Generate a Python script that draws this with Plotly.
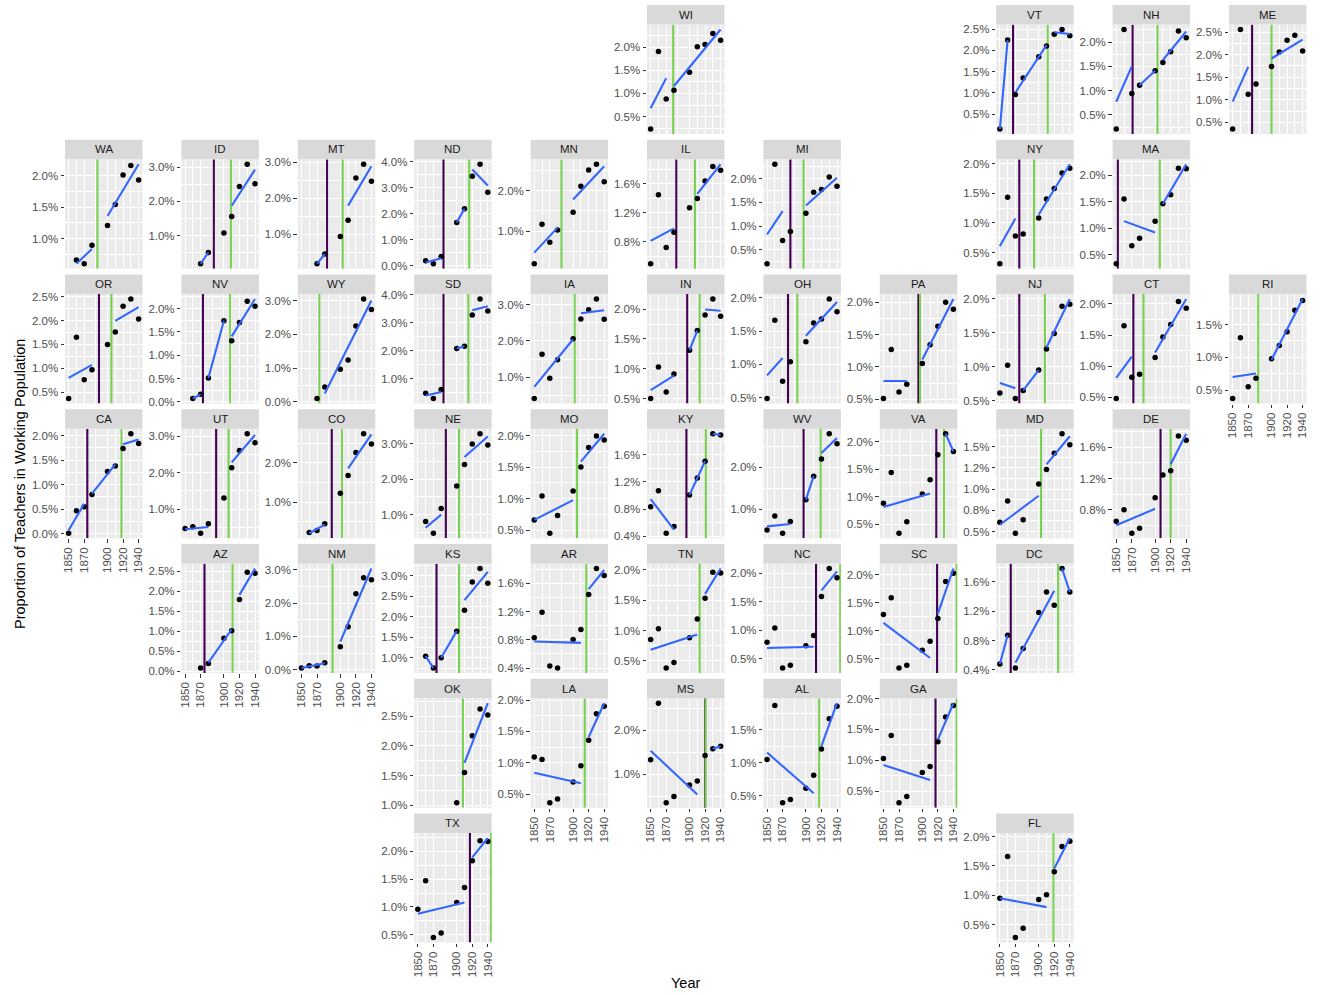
import math
import numpy as np
import plotly.graph_objects as go

# ---------------- data ----------------
YEARS = [1850, 1860, 1870, 1880, 1900, 1910, 1920, 1930, 1940]
X_TICKS = [1850, 1870, 1900, 1920, 1940]

STATES = ["WI", "VT", "NH", "ME",
          "WA", "ID", "MT", "ND", "MN", "IL", "MI", "NY", "MA",
          "OR", "NV", "WY", "SD", "IA", "IN", "OH", "PA", "NJ", "CT", "RI",
          "CA", "UT", "CO", "NE", "MO", "KY", "WV", "VA", "MD", "DE",
          "AZ", "NM", "KS", "AR", "TN", "NC", "SC", "DC",
          "OK", "LA", "MS", "AL", "GA",
          "TX", "FL"]

# proportion of teachers in working population (%), one value per census year (None = no data)
WI = [0.23, 1.91, 0.88, 1.07, 1.46, 2.01, 2.06, 2.30, 2.15]
VT = [0.15, 2.24, 0.96, 1.35, 1.85, 2.10, 2.38, 2.49, 2.34]
NH = [0.21, 2.26, 0.94, 1.11, 1.41, 1.58, 1.80, 2.23, 2.09]
ME = [0.35, 2.56, 1.12, 1.35, 1.74, 2.06, 2.32, 2.43, 2.08]
WA = [None, 0.66, 0.60, 0.895, 1.21, 1.54, 2.01, 2.16, 1.93]
ID = [None, None, 0.17, 0.50, 1.07, 1.56, 2.44, 3.09, 2.52]
MT = [None, None, 0.19, 0.46, 0.94, 1.39, 2.56, 2.94, 2.47]
ND = [None, 0.20, 0.085, 0.36, 1.67, 2.19, 3.44, 3.90, 2.83]
MN = [0.20, 1.17, 0.73, 1.03, 1.47, 2.11, 2.51, 2.65, 2.22]
IL = [0.495, 1.45, 0.72, 0.93, 1.27, 1.40, 1.64, 1.84, 1.79]
MI = [0.21, 2.30, 0.70, 0.89, 1.27, 1.71, 1.77, 2.03, 1.84]
NY = [0.31, 1.43, 0.78, 0.81, 1.08, 1.40, 1.58, 1.84, 1.92]
MA = [0.33, 1.55, 0.67, 0.81, 1.13, 1.46, 1.63, 2.13, 2.12]
OR = [0.37, 1.65, 0.76, 0.97, 1.50, 1.76, 2.30, 2.45, 2.03]
NV = [None, 0.07, 0.16, 0.51, 1.74, 1.31, 1.70, 2.16, 2.05]
WY = [None, None, 0.10, 0.44, 0.97, 1.24, 2.25, 3.05, 2.74]
SD = [None, 0.48, 0.29, 0.61, 2.08, 2.16, 3.28, 3.85, 3.42]
IA = [0.41, 1.63, 0.97, 1.48, 2.06, 2.61, 2.86, 3.16, 2.60]
IN = [0.50, 1.03, 0.61, 0.91, 1.31, 1.64, 1.90, 2.17, 1.88]
OH = [0.49, 1.66, 0.75, 1.04, 1.34, 1.62, 1.68, 1.98, 1.79]
PA = [0.51, 1.27, 0.61, 0.73, 1.05, 1.34, 1.63, 2.00, 1.89]
NJ = [0.61, 1.02, 0.53, 0.65, 0.95, 1.26, 1.49, 1.89, 1.92]
CT = [0.48, 1.65, 0.82, 0.87, 1.14, 1.47, 1.67, 2.04, 1.93]
RI = [0.37, 1.30, 0.55, 0.68, 0.98, 1.18, 1.39, 1.72, 1.87]
CA = [0.01, 0.47, 0.55, 0.80, 1.27, 1.38, 1.74, 2.04, 1.84]
UT = [0.47, 0.52, 0.34, 0.60, 1.31, 2.14, 2.61, 3.07, 2.82]
CO = [None, 0.23, 0.28, 0.45, 1.23, 1.68, 2.26, 2.74, 2.48]
NE = [None, 0.80, 0.47, 1.17, 1.81, 2.42, 3.00, 3.29, 2.97]
MO = [0.66, 1.04, 0.45, 0.73, 1.12, 1.50, 1.81, 1.99, 1.93]
KY = [0.835, 1.07, 0.445, 0.545, 1.01, 1.26, 1.505, 1.91, 1.89]
WV = [0.51, 0.84, 0.43, 0.71, 1.23, 1.79, 2.20, 2.80, 2.56]
VA = [0.885, 1.44, 0.34, 0.55, 1.05, 1.31, 1.76, 2.14, 1.82]
MD = [0.61, 0.86, 0.48, 0.64, 1.06, 1.23, 1.42, 1.65, 1.52]
DE = [0.655, 0.80, 0.50, 0.565, 0.955, 1.245, 1.30, 1.745, 1.69]
AZ = [None, None, 0.075, 0.19, 0.82, 1.01, 1.79, 2.47, 2.45]
NM = [0.05, 0.12, 0.11, 0.21, 0.69, 1.29, 2.28, 2.76, 2.70]
KS = [None, 1.04, 0.75, 1.00, 1.65, 2.16, 2.85, 3.18, 2.82]
AR = [0.83, 1.19, 0.43, 0.40, 0.805, 0.945, 1.44, 1.81, 1.71]
TN = [0.85, 1.03, 0.38, 0.47, 0.88, 1.19, 1.53, 1.96, 1.95]
NC = [0.79, 1.04, 0.34, 0.39, 0.73, 0.91, 1.59, 2.08, 1.92]
SC = [1.29, 1.59, 0.33, 0.38, 0.65, 0.81, 1.22, 1.88, 2.03]
DC = [0.48, 0.87, 0.425, 0.69, 1.18, 1.46, 1.28, 1.78, 1.46]
OK = [None, None, None, None, 1.04, 1.55, 2.17, 2.62, 2.52]
LA = [1.09, 1.05, 0.36, 0.42, 0.69, 0.95, 1.36, 1.78, 1.90]
MS = [1.33, 2.61, 0.36, 0.50, 0.76, 0.85, 1.43, 1.58, 1.64]
AL = [1.05, 1.87, 0.39, 0.44, 0.61, 0.81, 1.21, 1.67, 1.86]
GA = [1.03, 1.40, 0.31, 0.41, 0.80, 0.90, 1.30, 1.70, 1.89]
TX = [0.96, 1.47, 0.45, 0.53, 1.08, 1.35, 1.83, 2.19, 2.18]
FL = [0.95, 1.66, 0.28, 0.44, 0.93, 1.01, 1.40, 1.83, 1.92]

# event years (purple and green reference lines), aligned with STATES
PURPLE_YEAR = [None, 1867, 1871, 1875,
               None, 1887, 1883, 1883, None, 1883, 1880, 1875, 1852,
               1889, 1873, None, 1883, None, 1897, 1877, 1895, 1875, 1872, None,
               1874, 1890, 1889, 1886, None, 1896, 1897, 1918, None, 1907,
               1875, None, 1874, None, None, 1913, 1919, 1864,
               None, None, 1920, None, 1917,
               1917, None]
GREEN_YEAR = [1879, 1911.5, 1903, 1900,
              1887, 1909, 1903, 1916, 1885, 1907, 1897, 1894, 1906,
              1905, 1908, 1873, 1915, 1902, 1913, 1889, 1897, 1908, 1885, 1883,
              1918, 1906, 1902, 1903, 1905, 1921, 1919, 1928, 1903, 1920,
              1911, 1890, 1903, 1917, 1913, 1944.2, 1944.2, 1925,
              1908, 1915, 1920.6, 1917, 1944.2,
              1944.2, 1919]

# y-axis break spacing (in %) per state
Y_STEP = [0.5, 0.5, 0.5, 0.5,
          0.5, 1.0, 1.0, 1.0, 1.0, 0.4, 0.5, 0.5, 0.5,
          0.5, 0.5, 1.0, 1.0, 1.0, 0.5, 0.5, 0.5, 0.5, 0.5, 0.5,
          0.5, 1.0, 1.0, 1.0, 0.5, 0.4, 1.0, 0.5, 0.25, 0.4,
          0.5, 1.0, 0.5, 0.4, 0.5, 0.5, 0.5, 0.4,
          0.5, 0.5, 1.0, 0.5, 0.5,
          0.5, 0.5]

VALUES = {s: globals()[s] for s in STATES}

# ---------------- layout ----------------
GRID = {
    "WI": (0, 5), "VT": (0, 8), "NH": (0, 9), "ME": (0, 10),
    "WA": (1, 0), "ID": (1, 1), "MT": (1, 2), "ND": (1, 3), "MN": (1, 4), "IL": (1, 5),
    "MI": (1, 6), "NY": (1, 8), "MA": (1, 9),
    "OR": (2, 0), "NV": (2, 1), "WY": (2, 2), "SD": (2, 3), "IA": (2, 4), "IN": (2, 5),
    "OH": (2, 6), "PA": (2, 7), "NJ": (2, 8), "CT": (2, 9), "RI": (2, 10),
    "CA": (3, 0), "UT": (3, 1), "CO": (3, 2), "NE": (3, 3), "MO": (3, 4), "KY": (3, 5),
    "WV": (3, 6), "VA": (3, 7), "MD": (3, 8), "DE": (3, 9),
    "AZ": (4, 1), "NM": (4, 2), "KS": (4, 3), "AR": (4, 4), "TN": (4, 5), "NC": (4, 6),
    "SC": (4, 7), "DC": (4, 8),
    "OK": (5, 3), "LA": (5, 4), "MS": (5, 5), "AL": (5, 6), "GA": (5, 7),
    "TX": (6, 3), "FL": (6, 8),
}
SHOW_X = {"CA", "RI", "DE", "AZ", "NM", "LA", "MS", "AL", "GA", "TX", "FL"}

W, H = 1321, 995
COL0, COL_PITCH, PANEL_W = 65.0, 116.4, 77.5
ROW0, ROW_PITCH, STRIP_H, CELL_H = 5.0, 134.75, 19.5, 129.0
X_RANGE = [1845.3, 1945.0]

FONT = "Liberation Sans, Arial, sans-serif"
PURPLE = "#440154"
GREEN = "#7AD151"
BLUE = "#3366FF"

fig = go.Figure()
layout = dict(
    width=W, height=H, margin=dict(l=0, r=0, t=0, b=0, autoexpand=False),
    paper_bgcolor="white", plot_bgcolor="#EBEBEB", showlegend=False,
    font=dict(family=FONT),
)
shapes = []
annotations = []


def fmt(v):
    return f"{v:.1f}%"


for i, st in enumerate(STATES):
    idx = i + 1
    xname = "x" if idx == 1 else f"x{idx}"
    yname = "y" if idx == 1 else f"y{idx}"
    r, c = GRID[st]
    left = COL0 + COL_PITCH * c
    right = left + PANEL_W
    stop = ROW0 + ROW_PITCH * r
    sbot = stop + STRIP_H
    pbot = stop + CELL_H

    vals = VALUES[st]
    yrs = [y for y, v in zip(YEARS, vals) if v is not None]
    vs = [v for v in vals if v is not None]

    breaks = sorted(b for b in (PURPLE_YEAR[i], GREEN_YEAR[i]) if b is not None)
    groups = {}
    for y, v in zip(yrs, vs):
        g = sum(1 for b in breaks if y >= b)
        groups.setdefault(g, []).append((y, v))

    fit_vals = []
    lines = []
    for g, pts in sorted(groups.items()):
        if len(pts) < 2:
            continue
        gx = np.array([p[0] for p in pts], dtype=float)
        gy = np.array([p[1] for p in pts], dtype=float)
        slope, icpt = np.polyfit(gx, gy, 1)
        x0, x1 = gx.min(), gx.max()
        y0, y1 = slope * x0 + icpt, slope * x1 + icpt
        fit_vals += [y0, y1]
        lines.append(([x0, x1], [y0, y1]))

    lo = min(vs + fit_vals)
    hi = max(vs + fit_vals)
    pad = 0.05 * (hi - lo)
    yr = [lo - pad, hi + pad]

    step = Y_STEP[i]
    k0 = math.ceil(yr[0] / step - 1e-9)
    k1 = math.floor(yr[1] / step + 1e-9)
    ticks = [round(k * step, 4) for k in range(k0, k1 + 1)]
    minor = [round((k + 0.5) * step, 4) for k in range(k0 - 1, k1 + 1)
             if yr[0] <= (k + 0.5) * step <= yr[1]]

    # reference lines (drawn first so data sit on top)
    for yrv, col in ((PURPLE_YEAR[i], PURPLE), (GREEN_YEAR[i], GREEN)):
        if yrv is None:
            continue
        fig.add_trace(go.Scatter(
            x=[yrv, yrv], y=yr, mode="lines", xaxis=xname, yaxis=yname,
            line=dict(color=col, width=2.1), hoverinfo="skip"))

    # points
    fig.add_trace(go.Scatter(
        x=yrs, y=vs, mode="markers", xaxis=xname, yaxis=yname,
        marker=dict(color="black", size=5.5), hoverinfo="skip"))
    for lx, ly in lines:
        fig.add_trace(go.Scatter(
            x=lx, y=ly, mode="lines", xaxis=xname, yaxis=yname,
            line=dict(color=BLUE, width=2.1), hoverinfo="skip"))

    showx = st in SHOW_X
    layout["xaxis" if idx == 1 else f"xaxis{idx}"] = dict(
        domain=[left / W, right / W], anchor=yname, range=X_RANGE,
        tickmode="array", tickvals=X_TICKS, ticktext=[str(t) for t in X_TICKS],
        showticklabels=showx, ticks="outside" if showx else "",
        ticklen=3.5, tickwidth=1, tickcolor="#333333", tickangle=-90,
        tickfont=dict(size=11.5, color="#4D4D4D", family=FONT),
        showgrid=True, gridcolor="white", gridwidth=1.1,
        minor=dict(tickvals=[1860, 1885, 1910, 1930], showgrid=True,
                   gridcolor="white", gridwidth=0.5, ticklen=0),
        zeroline=False, showline=False, fixedrange=True,
    )
    layout["yaxis" if idx == 1 else f"yaxis{idx}"] = dict(
        domain=[1 - pbot / H, 1 - sbot / H], anchor=xname, range=yr,
        tickmode="array", tickvals=ticks, ticktext=[fmt(t) for t in ticks],
        ticks="outside", ticklen=3.5, tickwidth=1, tickcolor="#333333",
        tickfont=dict(size=11.5, color="#4D4D4D", family=FONT),
        showgrid=True, gridcolor="white", gridwidth=1.1,
        minor=dict(tickvals=minor, showgrid=True, gridcolor="white",
                   gridwidth=0.5, ticklen=0),
        zeroline=False, showline=False, fixedrange=True,
    )

    # strip
    shapes.append(dict(
        type="rect", xref="paper", yref="paper",
        x0=left / W, x1=right / W, y0=1 - sbot / H, y1=1 - stop / H,
        fillcolor="#D9D9D9", line=dict(width=0)))
    annotations.append(dict(
        text=st, xref="paper", yref="paper",
        x=(left + right) / 2 / W, y=1 - (stop + sbot) / 2 / H,
        showarrow=False, xanchor="center", yanchor="middle",
        font=dict(size=11.5, color="#1A1A1A", family=FONT)))

annotations.append(dict(
    text="Year", xref="paper", yref="paper", x=685 / W, y=1 - 983 / H,
    showarrow=False, xanchor="center", yanchor="middle",
    font=dict(size=14.5, color="black", family=FONT)))
annotations.append(dict(
    text="Proportion of Teachers in Working Population", xref="paper", yref="paper",
    x=20 / W, y=1 - 484 / H, textangle=-90,
    showarrow=False, xanchor="center", yanchor="middle",
    font=dict(size=14.5, color="black", family=FONT)))

layout["shapes"] = shapes
layout["annotations"] = annotations
fig.update_layout(**layout)
fig.write_html("out.html", config={"displayModeBar": False},
               post_script="document.body.style.margin='0px';document.body.style.padding='0px';")
